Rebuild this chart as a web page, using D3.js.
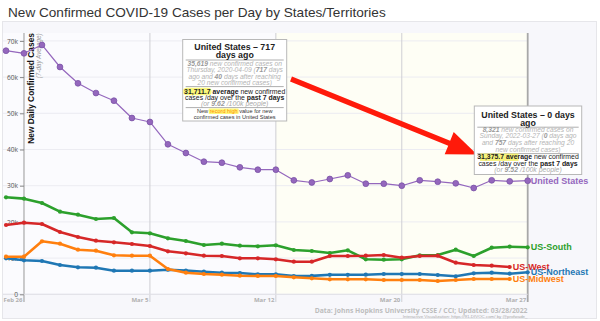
<!DOCTYPE html>
<html><head><meta charset="utf-8">
<script src="https://cdn.jsdelivr.net/npm/d3@7"></script>
<style>
html,body{margin:0;padding:0;background:#fff;}
svg{display:block;font-family:"Liberation Sans",Arial,sans-serif;}
</style></head>
<body><div id="chart"></div>
<script>
// ---- data ----
const dayIndex = d3.range(30);
const xTickIdx = [1, 8, 15, 22, 29];
const xTickLabels = ["Feb 26", "Mar 5", "Mar 12", "Mar 20", "Mar 27"];
const yTicks = [0, 10000, 20000, 30000, 40000, 50000, 60000, 70000];
const yTickLabels = ["0", "10k", "20k", "30k", "40k", "50k", "60k", "70k"];

const unitedStates = [67290, 66570, 68870, 62790, 58290, 55600, 53480, 48700, 47600, 41440,
  39030, 36630, 36350, 35080, 34420, 34420, 31490, 30890, 31850, 32870,
  30550, 30550, 30000, 31490, 31100, 30660, 29360, 31490, 31210, 31376];
const usSouth = [26800, 26420, 25220, 22820, 21990, 20800, 21080, 17130, 16850, 15470,
  14720, 13620, 13980, 13430, 13260, 13540, 12240, 11960, 11410, 12150,
  9670, 9560, 9670, 10770, 10860, 12320, 10580, 12870, 13150, 12980];
const usWest = [19140, 19780, 19420, 17210, 15830, 14810, 14360, 13900, 13340, 11880,
  11330, 10660, 10580, 9940, 9940, 9670, 9010, 9010, 10580, 10580,
  10660, 10860, 10110, 10580, 10660, 8730, 8090, 7900, 7540, null];
const usNortheast = [9940, 9390, 9200, 8090, 7460, 7350, 6520, 6520, 6520, 6800,
  6570, 6240, 5970, 5880, 5520, 5520, 5060, 5100, 5380, 5380,
  5420, 5610, 5610, 5610, 5330, 4970, 5800, 5970, 5690, 6080];
const usMidwest = [10390, 10390, 14640, 13980, 12320, 12040, 10770, 10660, 10660, 6990,
  5970, 5610, 5420, 5140, 5060, 5060, 4700, 4420, 4140, 4140,
  4140, 3950, 3950, 3950, 3670, 3950, 4230, 4230, 4230, null];

const seriesNames = ["US-South", "US-West", "US-Northeast", "US-Midwest", "United States"];
const seriesValues = [usSouth, usWest, usNortheast, usMidwest, unitedStates];
const seriesColors = ["#2ca02c", "#d62728", "#1f77b4", "#ff7f0e", "#9467bd"];

// ---- layout ----
const W = 600, H = 321;
const svg = d3.select("#chart").append("svg").attr("width", W).attr("height", H);

const x = d3.scaleLinear().domain([0, 29]).range([6, 527.7]);
const y = d3.scaleLinear().domain([0, 70000]).range([294.3, 40.9]);
const plotTop = 33, plotBottom = 294.3;

// panel
svg.append("rect").attr("x", 2.5).attr("y", 21.5).attr("width", 594).attr("height", 297)
  .attr("fill", "#f7f7fb").attr("stroke", "#e6e6ea");
svg.append("rect").attr("x", 3).attr("y", plotTop).attr("width", x(29) - 3).attr("height", plotBottom - plotTop)
  .attr("fill", "#fbfbfe");
svg.append("rect").attr("x", x(15)).attr("y", plotTop).attr("width", x(29) - x(15)).attr("height", plotBottom - plotTop)
  .attr("fill", "#fefef5");

// title
svg.append("text").attr("x", 8).attr("y", 17).attr("font-size", 13.6).attr("fill", "#333")
  .text("New Confirmed COVID-19 Cases per Day by States/Territories");

// horizontal grid
svg.append("g").selectAll("line").data(yTicks).join("line")
  .attr("x1", 3).attr("x2", x(29)).attr("y1", d => y(d)).attr("y2", d => y(d))
  .attr("stroke", "#ececf2").attr("stroke-width", 1);

// vertical grid
svg.append("g").selectAll("line").data(xTickIdx).join("line")
  .attr("x1", d => x(d)).attr("x2", d => x(d)).attr("y1", plotTop).attr("y2", 302)
  .attr("stroke", (d, i) => i === 0 ? "#999" : (i === xTickIdx.length - 1 ? "#a8a8a8" : "#cfcfd4"))
  .attr("stroke-width", (d, i) => i === xTickIdx.length - 1 ? 1.8 : 1);
// x axis baseline
svg.append("line").attr("x1", 3).attr("x2", x(29)).attr("y1", plotBottom).attr("y2", plotBottom)
  .attr("stroke", "#e0e0e6");

// x axis labels
const xAxis = d3.axisBottom(x).tickValues(xTickIdx).tickFormat((d, i) => xTickLabels[i]).tickSize(0);
const gx = svg.append("g").attr("transform", `translate(0,${plotBottom})`).call(xAxis);
gx.select(".domain").remove();
gx.selectAll("text").attr("text-anchor", "end").attr("dx", "-2").attr("dy", 0).attr("y", 7.8)
  .attr("font-size", 6).attr("font-weight", "bold").attr("fill", "#b0b0b0")
  .attr("font-family", "'Open Sans',sans-serif");

// y axis
const yAxis = d3.axisLeft(y).tickValues(yTicks).tickFormat((d, i) => yTickLabels[i]).tickSize(4).tickPadding(2);
const gy = svg.append("g").attr("transform", `translate(${x(1)},0)`).call(yAxis);
gy.select(".domain").remove();
gy.selectAll(".tick line").attr("stroke", "#888");
gy.selectAll("text").attr("font-size", 6.6).attr("fill", "#555").attr("font-family", "'Open Sans',sans-serif");

// y title
svg.append("text").attr("transform", `translate(33.5,33) rotate(-90)`).attr("text-anchor", "end")
  .attr("font-size", 8.4).attr("font-weight", "bold").attr("fill", "#111")
  .text("New Daily Confirmed Cases");
svg.append("text").attr("transform", `translate(40.5,33.5) rotate(-90)`).attr("text-anchor", "end")
  .attr("font-size", 6.3).attr("font-style", "italic").attr("fill", "#999")
  .text("(7-day Average)");

// series
const line = d3.line().defined(d => d != null).x((d, i) => x(i)).y(d => y(d));
seriesValues.forEach((vals, s) => {
  const isUS = s === seriesValues.length - 1;
  const g = svg.append("g");
  g.append("path").datum(vals).attr("d", line).attr("fill", "none")
    .attr("stroke", seriesColors[s]).attr("stroke-width", isUS ? 1.2 : 2.6)
    .attr("stroke-linejoin", "round");
  g.selectAll("circle").data(dayIndex.filter(i => vals[i] != null)).join("circle")
    .attr("cx", i => x(i)).attr("cy", i => y(vals[i]))
    .attr("r", isUS ? 2.9 : 2.1)
    .attr("fill", seriesColors[s])
    .attr("stroke", isUS ? "#7a52a6" : "none").attr("stroke-width", 0.8);
  let last = vals.length - 1;
  while (vals[last] == null) last--;
  svg.append("text").attr("x", x(last) + 3).attr("y", y(vals[last])).attr("dy", "0.35em")
    .attr("font-size", 9).attr("font-weight", "bold").attr("fill", seriesColors[s])
    .text(seriesNames[s]);
});

// ---- annotations ----
// red arrow
(function () {
  const sx = 291, sy = 79, tx = 477, ty = 154.5;
  const dx = tx - sx, dy = ty - sy, L = Math.hypot(dx, dy);
  const ux = dx / L, uy = dy / L, nx = -uy, ny = ux;
  const hl = 30, hw = 12, sw = 2.6;
  const bx = tx - hl * ux, by = ty - hl * uy;
  const pts = [[sx + sw * nx, sy + sw * ny], [bx + sw * nx, by + sw * ny], [bx + hw * nx, by + hw * ny],
    [tx, ty], [bx - hw * nx, by - hw * ny], [bx - sw * nx, by - sw * ny], [sx - sw * nx, sy - sw * ny]];
  svg.append("path").attr("d", "M" + pts.map(p => p.join(",")).join("L") + "Z").attr("fill", "#ff1a0a");
})();

function tooltip(bx, by, bw, bh, titleLines, grayLines, avgLines, seps, extra) {
  const g = svg.append("g");
  g.append("rect").attr("x", bx).attr("y", by).attr("width", bw).attr("height", bh)
    .attr("fill", "#fff").attr("stroke", "#b8b8b8").attr("stroke-width", 1);
  const cx = bx + bw / 2;
  seps.forEach(sy => g.append("line").attr("x1", bx + 3).attr("x2", bx + bw - 3).attr("y1", sy).attr("y2", sy)
    .attr("stroke", "#999").attr("stroke-width", 0.8));
  titleLines.forEach(l => g.append("text").attr("x", cx).attr("y", l.y).attr("text-anchor", "middle")
    .attr("font-size", 8.8).attr("font-weight", "bold").attr("fill", "#222").text(l.t));
  function rich(lines, size, baseStyle) {
    lines.forEach(l => {
      const t = g.append("text").attr("x", cx).attr("y", l.y).attr("text-anchor", "middle")
        .attr("font-size", size);
      l.parts.forEach(p => {
        const st = Object.assign({}, baseStyle, p.s || {});
        const ts = t.append("tspan").text(p.t);
        Object.entries(st).forEach(([k, v]) => ts.attr(k, v));
      });
      l.node = t.node();
    });
  }
  rich(grayLines, 6.7, { fill: "#b4b4b4", "font-style": "italic" });
  rich(avgLines, 6.9, { fill: "#222" });
  if (extra) rich(extra, 5.6, { fill: "#333" });
  return { g, avgLines, extra };
}

const B = { "font-weight": "bold" };
const BG = { "font-weight": "bold", fill: "#999" };
const tt1 = tooltip(182.7, 39.5, 104, 81.5,
  [{ t: "United States \u2013 717", y: 50.3 }, { t: "days ago", y: 58.3 }],
  [
    { y: 66, parts: [{ t: "35,619", s: BG }, { t: " new confirmed cases on" }] },
    { y: 72.3, parts: [{ t: "Thursday, 2020-04-09 (" }, { t: "717", s: BG }, { t: " days" }] },
    { y: 78.6, parts: [{ t: "ago and " }, { t: "40", s: BG }, { t: " days after reaching" }] },
    { y: 84.9, parts: [{ t: "20 new confirmed cases)" }] }
  ],
  [
    { y: 93.5, parts: [{ t: "31,711.7", s: B }, { t: " average", s: B }, { t: " new confirmed" }] },
    { y: 99.6, parts: [{ t: "cases /day over the " }, { t: "past 7 days", s: B }] },
    { y: 105.6, parts: [{ t: "(or ", s: { fill: "#aaa", "font-style": "italic" } }, { t: "9.62", s: { fill: "#999", "font-style": "italic", "font-weight": "bold" } }, { t: " /100k people)", s: { fill: "#aaa", "font-style": "italic" } }] }
  ],
  [60, 86.6, 107.6],
  [
    { y: 113.3, parts: [{ t: "New " }, { t: "record high", s: { fill: "#ff8c00" } }, { t: " value for new" }] },
    { y: 118.6, parts: [{ t: "confirmed cases in United States" }] }
  ]);

const tt2 = tooltip(474.3, 106, 107.4, 68.5,
  [{ t: "United States \u2013 0 days", y: 117.5 }, { t: "ago", y: 125.8 }],
  [
    { y: 131.6, parts: [{ t: "8,321", s: BG }, { t: " new confirmed cases on" }] },
    { y: 138.2, parts: [{ t: "Sunday, 2022-03-27 (" }, { t: "0", s: BG }, { t: " days ago" }] },
    { y: 144.9, parts: [{ t: "and " }, { t: "757", s: BG }, { t: " days after reaching 20" }] },
    { y: 151.5, parts: [{ t: "new confirmed cases)" }] }
  ],
  [
    { y: 159.2, parts: [{ t: "31,375.7", s: B }, { t: " average", s: B }, { t: " new confirmed" }] },
    { y: 165.7, parts: [{ t: "cases /day over the " }, { t: "past 7 days", s: B }] },
    { y: 172, parts: [{ t: "(or ", s: { fill: "#aaa", "font-style": "italic" } }, { t: "9.52", s: { fill: "#999", "font-style": "italic", "font-weight": "bold" } }, { t: " /100k people)", s: { fill: "#aaa", "font-style": "italic" } }] }
  ],
  [127.2, 153.6], null);

// highlights behind numbers
function highlight(tt, lineIdx, range, color, rx, isExtra) {
  const l = (isExtra ? tt.extra : tt.avgLines)[lineIdx];
  const start = l.node.getStartPositionOfChar(range[0]);
  const end = l.node.getEndPositionOfChar(range[1] - 1);
  const bb = l.node.getBBox();
  tt.g.insert("rect", "text").attr("x", start.x - 1).attr("y", bb.y + 0.3)
    .attr("width", end.x - start.x + 2).attr("height", bb.height - 0.6)
    .attr("rx", rx).attr("fill", color);
}
highlight(tt1, 0, [0, 8], "#fbf77a", 3.5, false);
highlight(tt2, 0, [1, 12], "#f6f27a", 0, false);
highlight(tt1, 0, [4, 15], "#fdf77a", 1, true);

// footer
svg.append("text").attr("x", 527.5).attr("y", 313).attr("text-anchor", "end")
  .attr("font-size", 6.8).attr("font-weight", "bold").attr("fill", "#bdbdbd")
  .attr("font-family", "'Open Sans',sans-serif")
  .text("Data: Johns Hopkins University CSSE / CCI; Updated: 03/28/2022");
svg.append("text").attr("x", 527.5).attr("y", 317.6).attr("text-anchor", "end")
  .attr("font-size", 4.4).attr("fill", "#aaa")
  .text("Interactive Visualization: https://91-DIVOC.com/ by @profwade_");
</script>
</body></html>
